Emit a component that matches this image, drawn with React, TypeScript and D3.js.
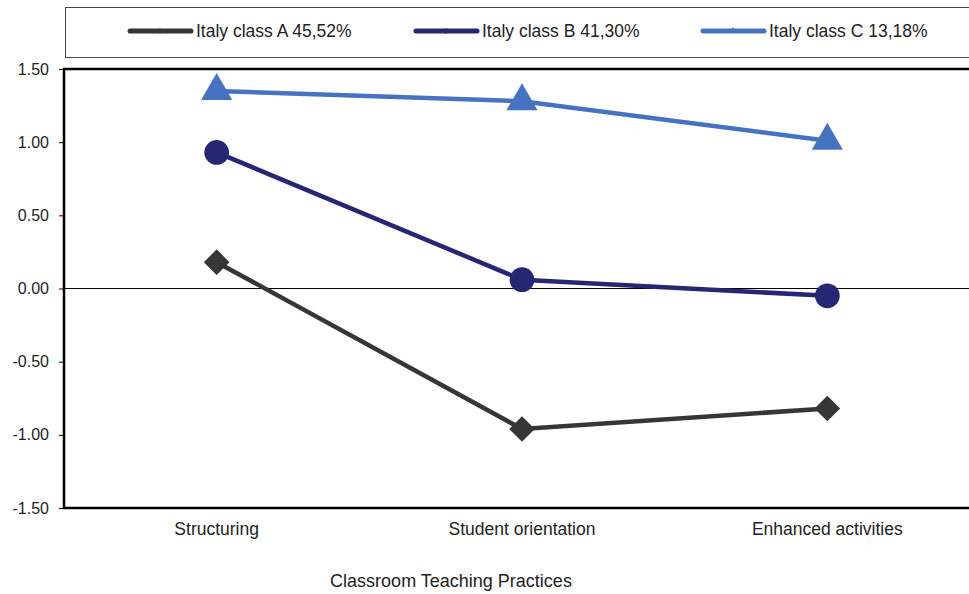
import * as d3 from "d3";
import { useEffect, useRef } from "react";

const categories = ["Structuring", "Student orientation", "Enhanced activities"];
const seriesNames = [
  "Italy class A 45,52%",
  "Italy class B 41,30%",
  "Italy class C 13,18%",
];
const classA = [0.18, -0.96, -0.82];
const classB = [0.93, 0.06, -0.05];
const classC = [1.35, 1.28, 1.01];
const yTicks = [-1.5, -1.0, -0.5, 0, 0.5, 1.0, 1.5];

const colors = ["#363636", "#262673", "#4672c2"];
const symbols = [d3.symbolDiamond2, d3.symbolCircle, d3.symbolTriangle];

export default function App() {
  const svgRef = useRef<SVGSVGElement | null>(null);

  useEffect(() => {
    if (!svgRef.current) return;
    const svg = d3.select(svgRef.current);
    svg.selectAll("*").remove();

    const width = 969;
    const height = 594;
    const plot = { left: 64, right: 980, top: 69, bottom: 508 };
    const font = "'Liberation Sans', Arial, sans-serif";

    const x = d3
      .scalePoint<string>()
      .domain(categories)
      .range([plot.left, plot.right])
      .padding(0.5);

    const y = d3
      .scaleLinear()
      .domain([-1.5, 1.5])
      .range([plot.bottom, plot.top]);

    svg.attr("width", width).attr("height", height);
    svg.append("rect").attr("width", width).attr("height", height).attr("fill", "#fff");

    // Legend box
    svg
      .append("rect")
      .attr("x", 65.5)
      .attr("y", 7.5)
      .attr("width", 940)
      .attr("height", 50)
      .attr("fill", "none")
      .attr("stroke", "#444")
      .attr("stroke-width", 1);

    const legendX = [130, 416, 703];
    const legend = svg
      .append("g")
      .selectAll("g")
      .data(seriesNames)
      .join("g")
      .attr("transform", (_, i) => `translate(${legendX[i]},31)`);
    legend
      .append("line")
      .attr("x1", 0)
      .attr("x2", 61)
      .attr("stroke", (_, i) => colors[i])
      .attr("stroke-width", 5)
      .attr("stroke-linecap", "round");
    legend
      .append("path")
      .attr("transform", "translate(30,0)")
      .attr("d", (_, i) => d3.symbol(symbols[i], 20)()!)
      .attr("fill", (_, i) => colors[i]);
    legend
      .append("text")
      .attr("x", 66)
      .attr("y", 0)
      .attr("dy", "0.35em")
      .attr("fill", "#222")
      .style("font-family", font)
      .style("font-size", "17.5px")
      .text((d) => d);

    // Zero line
    svg
      .append("line")
      .attr("x1", plot.left)
      .attr("x2", width)
      .attr("y1", y(0))
      .attr("y2", y(0))
      .attr("stroke", "#000")
      .attr("stroke-width", 1);

    // Y axis (plain hyphen for negatives, like the original)
    const fmt = d3.format(".2f");
    const yAxis = svg
      .append("g")
      .attr("transform", `translate(${plot.left},0)`)
      .call(
        d3
          .axisLeft(y)
          .tickValues(yTicks)
          .tickSize(5)
          .tickPadding(10)
          .tickFormat((d) => fmt(d as number).replace("\u2212", "-")),
      );
    yAxis.select(".domain").remove();
    yAxis.selectAll(".tick line").attr("stroke", "#000").attr("stroke-width", 1);
    yAxis
      .selectAll(".tick text")
      .attr("fill", "#222")
      .style("font-family", font)
      .style("font-size", "16px");

    // Frame: left, top, bottom
    svg
      .append("path")
      .attr(
        "d",
        `M${width},${plot.top}H${plot.left}V${plot.bottom}H${width}`,
      )
      .attr("fill", "none")
      .attr("stroke", "#000")
      .attr("stroke-width", 2.5);

    // Category labels
    svg
      .append("g")
      .selectAll("text")
      .data(categories)
      .join("text")
      .attr("x", (d) => x(d)!)
      .attr("y", 529)
      .attr("dy", "0.35em")
      .attr("text-anchor", "middle")
      .attr("fill", "#222")
      .style("font-family", font)
      .style("font-size", "17.5px")
      .text((d) => d);

    // X axis title
    svg
      .append("text")
      .attr("x", 451)
      .attr("y", 581)
      .attr("dy", "0.35em")
      .attr("text-anchor", "middle")
      .attr("fill", "#222")
      .style("font-family", font)
      .style("font-size", "18px")
      .text("Classroom Teaching Practices");

    // Series
    const series = [classA, classB, classC];
    const line = d3
      .line<number>()
      .x((_, i) => x(categories[i])!)
      .y((d) => y(d));
    const markerSize = [420, 480, 420];

    series.forEach((values, s) => {
      svg
        .append("path")
        .datum(values)
        .attr("d", line)
        .attr("fill", "none")
        .attr("stroke", colors[s])
        .attr("stroke-width", 4.5);

      svg
        .append("g")
        .selectAll("path")
        .data(values)
        .join("path")
        .attr(
          "transform",
          (d, i) => `translate(${x(categories[i])},${y(d)})`,
        )
        .attr("d", d3.symbol(symbols[s], markerSize[s])()!)
        .attr("fill", colors[s]);
    });
  }, []);

  return (
    <svg
      ref={svgRef}
      style={{ position: "absolute", left: 0, top: 0, display: "block" }}
    ></svg>
  );
}
